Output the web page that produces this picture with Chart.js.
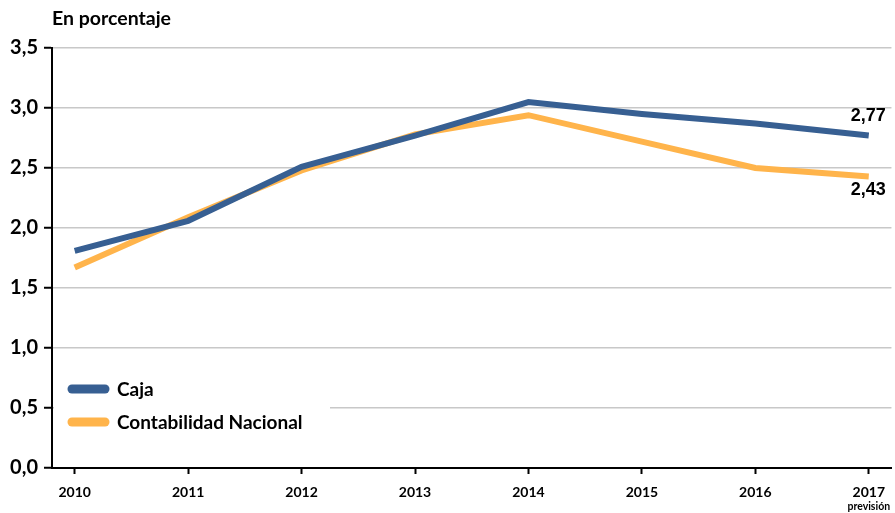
<!DOCTYPE html>
<html>
<head>
<meta charset="utf-8">
<script src="https://cdn.jsdelivr.net/npm/chart.js@4"></script>
<style>
html,body{margin:0;padding:0;background:#fff;}
#wrap{width:895px;height:513px;position:relative;}
</style>
</head>
<body>
<div id="wrap"><canvas id="c" width="895" height="513"></canvas></div>
<script>
const years = [2010, 2011, 2012, 2013, 2014, 2015, 2016, 2017];
const caja = [1.81, 2.06, 2.51, 2.77, 3.05, 2.95, 2.87, 2.77];
const contabilidad = [1.67, 2.09, 2.48, 2.78, 2.94, 2.72, 2.50, 2.43];
const seriesNames = ['Caja', 'Contabilidad Nacional'];
const endLabels = ['2,77', '2,43'];
const yTicks = [0, 0.5, 1.0, 1.5, 2.0, 2.5, 3.0, 3.5];
const unitLabel = 'En porcentaje';
const forecastNote = 'previsión';

const BLUE = '#375F92';
const ORANGE = '#FFB44B';
const LABEL_FONT = 'Lato, "Open Sans", sans-serif';

const toPts = arr => arr.map((v, i) => ({x: years[i], y: v}));

const extras = {
  id: 'extras',
  beforeDatasetsDraw(chart) {
    const ctx = chart.ctx;
    const a = chart.chartArea;
    ctx.save();
    ctx.fillStyle = '#fff';
    ctx.fillRect(a.left + 2, 372, 276, 66);
    ctx.restore();
  },
  afterDraw(chart) {
    const ctx = chart.ctx;
    const xs = chart.scales.x, ys = chart.scales.y;
    ctx.save();
    ctx.fillStyle = '#000';
    ctx.font = 'bold 19.5px ' + LABEL_FONT;
    ctx.textAlign = 'left';
    ctx.textBaseline = 'middle';
    ctx.fillText(unitLabel, 52, 19);
    const items = [[seriesNames[0], BLUE, 389], [seriesNames[1], ORANGE, 422]];
    items.forEach(([name, col, y]) => {
      ctx.strokeStyle = col;
      ctx.lineWidth = 9;
      ctx.lineCap = 'round';
      ctx.beginPath();
      ctx.moveTo(72, y);
      ctx.lineTo(105, y);
      ctx.stroke();
      ctx.fillStyle = '#000';
      ctx.font = 'bold 19px ' + LABEL_FONT;
      ctx.textAlign = 'left';
      ctx.textBaseline = 'middle';
      ctx.fillText(name, 117, y + 1);
    });
    ctx.font = 'bold 18px "Liberation Sans", Arial, sans-serif';
    ctx.textAlign = 'right';
    ctx.textBaseline = 'middle';
    const lx = xs.getPixelForValue(years[years.length - 1]) + 17;
    ctx.fillText(endLabels[0], lx, ys.getPixelForValue(caja[caja.length - 1]) - 20);
    ctx.fillText(endLabels[1], lx, ys.getPixelForValue(contabilidad[contabilidad.length - 1]) + 14);
    ctx.font = 'bold 10.5px ' + LABEL_FONT;
    ctx.textAlign = 'center';
    ctx.fillText(forecastNote, xs.getPixelForValue(years[years.length - 1]), 507);
    ctx.restore();
  }
};

new Chart(document.getElementById('c'), {
  type: 'line',
  data: {
    datasets: [
      {label: seriesNames[0], data: toPts(caja), borderColor: BLUE, borderWidth: 6, pointRadius: 0, tension: 0, order: 1},
      {label: seriesNames[1], data: toPts(contabilidad), borderColor: ORANGE, borderWidth: 6, pointRadius: 0, tension: 0, order: 2}
    ]
  },
  options: {
    responsive: false,
    animation: false,
    layout: {padding: {top: 48, left: 0, right: 0, bottom: 0}},
    plugins: {legend: {display: false}, tooltip: {enabled: false}},
    scales: {
      x: {
        type: 'linear',
        min: years[0] - 0.2,
        max: years[years.length - 1] + 0.2,
        afterBuildTicks: s => { s.ticks = years.map(v => ({value: v})); },
        afterFit: s => { s.height = 45; },
        grid: {drawOnChartArea: false, drawTicks: true, tickLength: 6, tickColor: '#000', tickWidth: 2},
        border: {display: true, color: '#000', width: 2},
        ticks: {
          autoSkip: false, maxRotation: 0, padding: 10, color: '#000',
          font: {family: LABEL_FONT, size: 14, weight: 'bold'},
          callback: v => String(v)
        }
      },
      y: {
        min: 0, max: 3.5,
        afterBuildTicks: s => { s.ticks = yTicks.map(v => ({value: v})); },
        afterFit: s => { s.width = 52; },
        grid: {color: '#c8c8c8', lineWidth: 1.5, drawTicks: true, tickLength: 8, tickColor: '#000', tickWidth: 2},
        border: {display: true, color: '#000', width: 2},
        ticks: {
          padding: 6, color: '#000',
          font: {family: LABEL_FONT, size: 20, weight: 'bold'},
          callback: v => Number(v).toFixed(1).replace('.', ',')
        }
      }
    }
  },
  plugins: [extras]
});
</script>
</body>
</html>
